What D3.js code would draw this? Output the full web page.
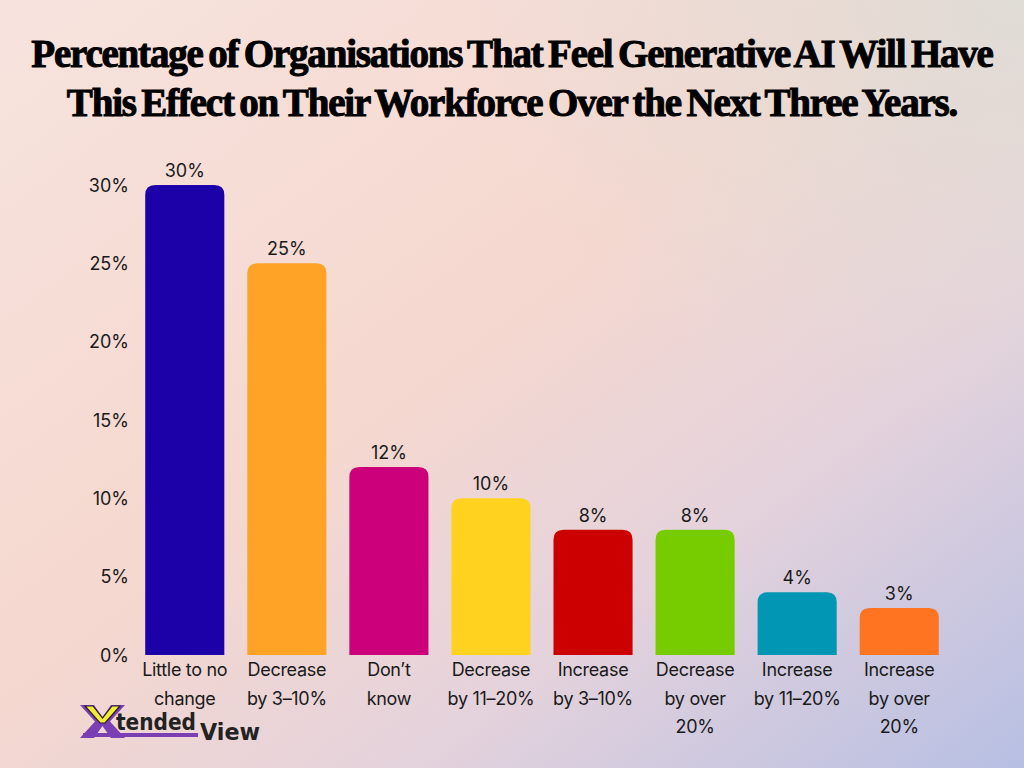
<!DOCTYPE html>
<html>
<head>
<meta charset="utf-8">
<script src="https://cdn.jsdelivr.net/npm/d3@7"></script>
<style>
  body { margin: 0; background: #f5dcd5; }
  svg { display: block; }
</style>
</head>
<body>
<script>
'use strict';

// chart data
const categories = [
  ['Little to no', 'change'],
  ['Decrease', 'by 3\u201310%'],
  ['Don\u2019t', 'know'],
  ['Decrease', 'by 11\u201320%'],
  ['Increase', 'by 3\u201310%'],
  ['Decrease', 'by over', '20%'],
  ['Increase', 'by 11\u201320%'],
  ['Increase', 'by over', '20%']
];
const values = [30, 25, 12, 10, 8, 8, 4, 3];
const barColors = ['#1c00a8', '#ffa326', '#cc007a', '#ffd21f', '#cc0000', '#77cc00', '#0096b4', '#ff7420'];
const yTicks = [0, 5, 10, 15, 20, 25, 30];
const titleLines = [
  'Percentage of Organisations That Feel Generative AI Will Have',
  'This Effect on Their Workforce Over the Next Three Years.'
];

const width = 1024, height = 768;
const svg = d3.select('body').append('svg')
  .attr('width', width)
  .attr('height', height);

// background gradients
const defs = svg.append('defs');
let bg = defs.append('linearGradient')
  .attr('id', 'bg').attr('x1', '0').attr('y1', '0').attr('x2', '1').attr('y2', '1');
bg.append('stop').attr('offset', '0%').attr('stop-color', '#f7e3de');
bg.append('stop').attr('offset', '45%').attr('stop-color', '#f5d8cf');
bg.append('stop').attr('offset', '70%').attr('stop-color', '#e4d2dc');
bg.append('stop').attr('offset', '100%').attr('stop-color', '#b7bfe3');

let tr = defs.append('radialGradient')
  .attr('id', 'tr').attr('cx', '1').attr('cy', '0').attr('r', '0.55');
tr.append('stop').attr('offset', '0%').attr('stop-color', '#e0dcd6').attr('stop-opacity', 1);
tr.append('stop').attr('offset', '100%').attr('stop-color', '#e0dcd6').attr('stop-opacity', 0);

svg.append('rect').attr('width', width).attr('height', height).attr('fill', 'url(#bg)');
svg.append('rect').attr('width', width).attr('height', height).attr('fill', 'url(#tr)');

// title
svg.append('g').selectAll('text')
  .data(titleLines)
  .enter()
  .append('text')
    .attr('x', 512)
    .attr('y', (d, i) => 67 + i * 48.5)
    .attr('text-anchor', 'middle')
    .style('font-family', '"Liberation Serif", "Times New Roman", serif')
    .style('font-weight', 'bold')
    .style('font-size', '39px')
    .style('letter-spacing', '-1.2px')
    .style('word-spacing', '-3px')
    .style('fill', '#000')
    .style('stroke', '#000')
    .style('stroke-width', '1px')
    .text(d => d);

// scales
const x = d3.scaleBand()
  .domain(d3.range(categories.length))
  .range([134, 950])
  .paddingInner(0.225)
  .paddingOuter(0.11);

const y = d3.scaleLinear()
  .domain([0, 30])
  .range([655, 185]);

// y axis
const yAxis = d3.axisLeft(y)
  .tickValues(yTicks)
  .tickFormat(d => d + '%')
  .tickSize(0)
  .tickPadding(0);

const yg = svg.append('g')
  .attr('transform', 'translate(129, 0)')
  .call(yAxis);
yg.select('.domain').remove();
yg.selectAll('text')
  .style('font-family', 'Inter, "Noto Sans", sans-serif')
  .style('font-size', '18px')
  .style('fill', '#1a1a1a')
  .attr('dy', '0.35em');

// bars with rounded top corners
function topRounded(x0, y0, w, h, r) {
  r = Math.min(r, h);
  return 'M' + x0 + ',' + (y0 + h) +
    'V' + (y0 + r) +
    'Q' + x0 + ',' + y0 + ' ' + (x0 + r) + ',' + y0 +
    'H' + (x0 + w - r) +
    'Q' + (x0 + w) + ',' + y0 + ' ' + (x0 + w) + ',' + (y0 + r) +
    'V' + (y0 + h) + 'Z';
}

svg.append('g').selectAll('.bar')
  .data(values)
  .enter()
  .append('path')
    .attr('class', 'bar')
    .attr('d', (d, i) => topRounded(x(i), y(d), x.bandwidth(), y(0) - y(d), 10))
    .attr('fill', (d, i) => barColors[i]);

// value labels
svg.append('g').selectAll('.label')
  .data(values)
  .enter()
  .append('text')
    .attr('class', 'label')
    .attr('x', (d, i) => x(i) + x.bandwidth() / 2)
    .attr('y', d => y(d) - 8)
    .attr('text-anchor', 'middle')
    .style('font-family', 'Inter, "Noto Sans", sans-serif')
    .style('font-size', '18px')
    .style('fill', '#1a1a1a')
    .text(d => d + '%');

// category labels
const cat = svg.append('g').selectAll('.cat')
  .data(categories)
  .enter()
  .append('text')
    .attr('class', 'cat')
    .attr('text-anchor', 'middle')
    .style('font-family', 'Inter, "Noto Sans", sans-serif')
    .style('font-size', '18px')
    .style('letter-spacing', '-0.3px')
    .style('fill', '#1a1a1a');

cat.selectAll('tspan')
  .data((d, i) => d.map(line => ({ line: line, i: i })))
  .enter()
  .append('tspan')
    .attr('x', d => x(d.i) + x.bandwidth() / 2)
    .attr('y', (d, j) => 676 + j * 28.5)
    .text(d => d.line);

// logo
const logo = svg.append('g').attr('transform', 'translate(80, 705)');
logo.append('rect')
  .attr('x', 3).attr('y', 28).attr('width', 115).attr('height', 4)
  .attr('fill', '#7b3fb4');
logo.append('path')
  .attr('d', 'M0,0 H14 L22.5,12 L31,0 H45 L30,16.5 L45,33 H31 L22.5,21 L14,33 H0 L15,16.5 Z')
  .attr('fill', '#7b3fb4');
logo.append('path')
  .attr('d', 'M5,1 H13 L22.5,13 L32,1 H40 L25,18 H20 Z')
  .attr('fill', '#f3ee2b')
  .attr('stroke', '#2a1a3a')
  .attr('stroke-width', 1.2);
logo.append('text')
  .attr('x', 36).attr('y', 25)
  .attr('textLength', 80)
  .attr('lengthAdjust', 'spacingAndGlyphs')
  .style('font-family', '"DejaVu Sans", sans-serif')
  .style('font-weight', 'bold')
  .style('font-size', '23px')
  .style('fill', '#222')
  .text('tended');
logo.append('text')
  .attr('x', 120).attr('y', 35)
  .attr('textLength', 60)
  .attr('lengthAdjust', 'spacingAndGlyphs')
  .style('font-family', '"DejaVu Sans", sans-serif')
  .style('font-weight', 'bold')
  .style('font-size', '23px')
  .style('fill', '#222')
  .text('View');
</script>
</body>
</html>
